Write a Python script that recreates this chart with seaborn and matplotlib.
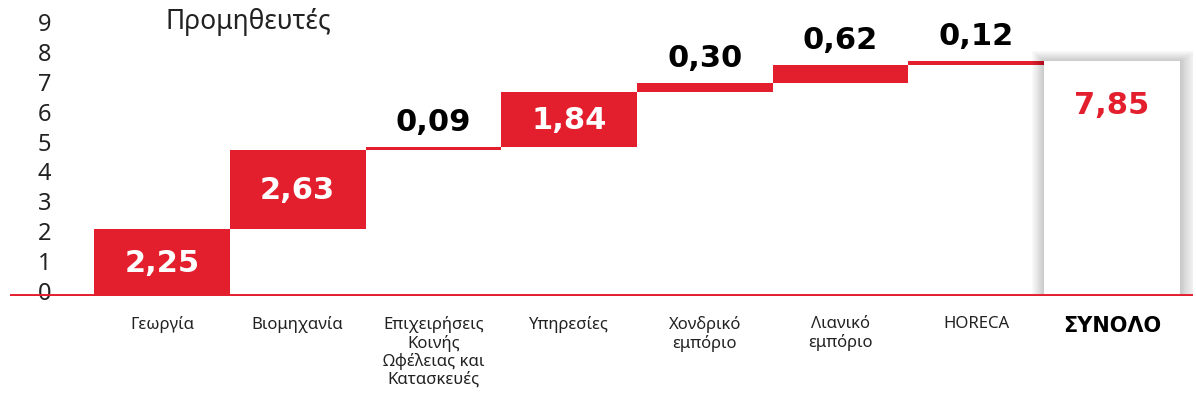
import numpy as np
import pandas as pd
import seaborn as sns
import matplotlib.pyplot as plt
from matplotlib.patches import Rectangle
from matplotlib.transforms import ScaledTranslation

categories = ['Γεωργία', 'Βιομηχανία', 'Επιχειρήσεις\nΚοινής\nΩφέλειας και\nΚατασκευές',
              'Υπηρεσίες', 'Χονδρικό\nεμπόριο', 'Λιανικό\nεμπόριο', 'HORECA', 'ΣΥΝΟΛΟ']
values = [2.25, 2.63, 0.09, 1.84, 0.30, 0.62, 0.12, 7.85]
labels = ['2,25', '2,63', '0,09', '1,84', '0,30', '0,62', '0,12', '7,85']
y_ticks = [0, 1, 2, 3, 4, 5, 6, 7, 8, 9]

RED = '#e31f2e'
NUM_FONT = ['DejaVu Sans']

sns.set_style('white')
plt.rcParams['font.family'] = ['Noto Sans', 'DejaVu Sans']

# waterfall: tops and bottoms of each step, total from zero
bottoms = list(np.cumsum([0] + values[:-2])) + [0]
tops = [b + v for b, v in zip(bottoms, values)]

df = pd.DataFrame({'cat': categories, 'top': tops, 'bottom': bottoms})
palette = [RED] * 7 + ['white']

fig = plt.figure(figsize=(11.96, 4.02), dpi=100)
ax = fig.add_axes([10 / 1196, 105 / 402, 1183 / 1196, 293 / 402])

sns.barplot(data=df, x='cat', y='top', hue='cat', palette=palette, order=categories,
            hue_order=categories, legend=False, width=1, linewidth=0, saturation=1,
            zorder=1, ax=ax)
main_bars = list(ax.patches)
sns.barplot(data=df, x='cat', y='bottom', color='white', order=categories,
            width=1, linewidth=0, saturation=1, zorder=2, ax=ax)

# soft shadow around the total bar
total = main_bars[-1]
total.set_zorder(4)
x0, w, h = total.get_x(), total.get_width(), total.get_height()
px_x = 1 / 135.75
px_y = 1 / 29.9
for k in range(1, 19):
    ax.add_patch(Rectangle((x0 - k * px_x * 0.7, 0), w + k * px_x * 1.6, h + k * px_y * 0.6,
                           facecolor='black', edgecolor='none', alpha=0.011, zorder=3))

ax.axhline(0, color=RED, lw=2.8, zorder=5)

# value labels
for i, (b, t, lab) in enumerate(zip(bottoms, tops, labels)):
    v = values[i]
    kw = dict(ha='center', fontsize=22, fontweight='bold', family=NUM_FONT, zorder=6)
    if i == len(values) - 1:
        ax.annotate(lab, (i, t), xytext=(0, -31), textcoords='offset points',
                    va='center', color=RED, **kw)
    elif v > 1:
        ax.text(i, (b + t) / 2, lab, va='center', color='white', **kw)
    else:
        ax.annotate(lab, (i, t), xytext=(0, 8), textcoords='offset points',
                    va='bottom', color='black', **kw)

ax.set_xlim(-1.119, 7.596)
ax.set_ylim(0, 9.8)
ax.set_yticks(y_ticks)
ax.set_yticklabels([str(t) for t in y_ticks], fontsize=17, color='#222222')
ax.tick_params(axis='y', length=0, pad=-25)
shift = ScaledTranslation(0, 6 / 100, fig.dpi_scale_trans)
for t in ax.get_yticklabels():
    t.set_horizontalalignment('center')
    t.set_transform(t.get_transform() + shift)
ax.tick_params(axis='x', length=0, pad=14, labelsize=12, labelcolor='#222222')
for t in ax.get_xticklabels():
    t.set_linespacing(1.1)
    t.set_verticalalignment('top')
last = ax.get_xticklabels()[-1]
last.set_family(['DejaVu Sans'])
last.set_fontweight('bold')
last.set_fontsize(15)
last.set_color('black')
ax.set_xlabel('')
ax.set_ylabel('')
sns.despine(ax=ax, left=True, bottom=True)

fig.text(165 / 1196, 1 - 22 / 402, 'Προμηθευτές', fontsize=19, color='#222222',
         ha='left', va='center')

fig.savefig('out.png', dpi=100)
